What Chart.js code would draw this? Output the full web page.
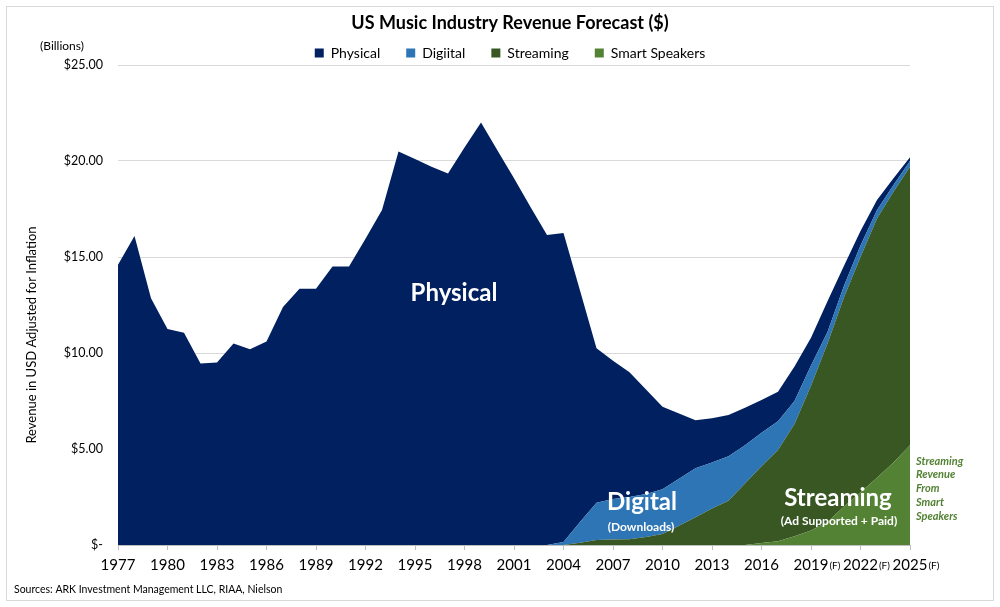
<!DOCTYPE html>
<html>
<head>
<meta charset="utf-8">
<title>US Music Industry Revenue Forecast</title>
<script src="https://cdn.jsdelivr.net/npm/chart.js@4/dist/chart.umd.min.js"></script>
<style>
  html, body { margin: 0; padding: 0; background: #fff; }
  #chart { display: block; }
</style>
</head>
<body>
<canvas id="chart" width="1000" height="607"></canvas>
<script>
// ---- data (billions of USD) ----
const years = [1977, 1978, 1979, 1980, 1981, 1982, 1983, 1984, 1985, 1986,
  1987, 1988, 1989, 1990, 1991, 1992, 1993, 1994, 1995, 1996,
  1997, 1998, 1999, 2000, 2001, 2002, 2003, 2004, 2005, 2006,
  2007, 2008, 2009, 2010, 2011, 2012, 2013, 2014, 2015, 2016,
  2017, 2018, 2019, 2020, 2021, 2022, 2023, 2024, 2025];

const forecastYears = [2019, 2022, 2025];

const physical = [14.6, 16.1, 12.85, 11.25, 11.05, 9.45, 9.5, 10.5, 10.2, 10.6,
  12.4, 13.35, 13.35, 14.5, 14.5, 15.95, 17.45, 20.5, 20.1, 19.7,
  19.35, 20.7, 22.0, 20.55, 19.1, 17.6, 16.15, 16.1, 12.05, 8.05,
  7.2, 6.5, 5.45, 4.3, 3.4, 2.5, 2.3, 2.15, 1.95, 1.7,
  1.53, 1.8, 1.45, 1.6, 1.05, 0.75, 0.52, 0.35, 0.2];

const digital = [0, 0, 0, 0, 0, 0, 0, 0, 0, 0,
  0, 0, 0, 0, 0, 0, 0, 0, 0, 0,
  0, 0, 0, 0, 0, 0, 0, 0.15, 1.08, 1.94,
  2.12, 2.2, 2.23, 2.33, 2.45, 2.55, 2.4, 2.32, 2.0, 1.75,
  1.5, 1.2, 1.05, 0.6, 0.6, 0.6, 0.45, 0.35, 0.3];

const streaming = [0, 0, 0, 0, 0, 0, 0, 0, 0, 0,
  0, 0, 0, 0, 0, 0, 0, 0, 0, 0,
  0, 0, 0, 0, 0, 0, 0, 0, 0.12, 0.26,
  0.28, 0.3, 0.42, 0.57, 1.0, 1.45, 1.9, 2.3, 3.2, 4.0,
  4.75, 5.85, 7.55, 9.3, 10.9, 12.25, 13.5, 14.1, 14.5];

const smartSpeakers = [0, 0, 0, 0, 0, 0, 0, 0, 0, 0,
  0, 0, 0, 0, 0, 0, 0, 0, 0, 0,
  0, 0, 0, 0, 0, 0, 0, 0, 0, 0,
  0, 0, 0, 0, 0, 0, 0, 0, 0, 0.1,
  0.2, 0.45, 0.75, 1.2, 2.0, 2.75, 3.5, 4.3, 5.2];

const yTicks = [0, 5, 10, 15, 20, 25];

const FONT = 'Lato, "Open Sans", sans-serif';
const NAVY = '#002060';
const BLUE = '#2E75B6';
const DARK_GREEN = '#385723';
const LIGHT_GREEN = '#548235';

// draws the frame, the axis title, the labels on the areas and the footer
const overlayText = {
  id: 'overlayText',
  afterInit(chart) {
    // legend padding gives the wide item spacing, but makes the box too tall
    const legend = chart.legend;
    const fit = legend.fit;
    legend.fit = function () {
      fit.call(this);
      this.height -= 5;
    };
  },
  afterLayout(chart) {
    // title and legend are centred over x = 510 in the reference
    chart.titleBlock.left += 100;
    chart.legend.left += 100;
  },
  beforeDraw(chart) {
    const ctx = chart.ctx;
    ctx.save();
    ctx.fillStyle = '#fff';
    ctx.fillRect(0, 0, chart.width, chart.height);
    ctx.strokeStyle = '#d9d9d9';
    ctx.lineWidth = 1;
    ctx.strokeRect(6.5, 6.5, 987, 594);
    ctx.restore();
  },
  afterDraw(chart) {
    const ctx = chart.ctx;
    const x = chart.scales.x;
    ctx.save();

    // y axis title
    ctx.fillStyle = '#000';
    ctx.font = '13px ' + FONT;
    ctx.textAlign = 'center';
    ctx.textBaseline = 'middle';
    ctx.save();
    ctx.translate(32, 335);
    ctx.rotate(-Math.PI / 2);
    ctx.fillText('Revenue in USD Adjusted for Inflation', 0, 0);
    ctx.restore();

    ctx.font = '12px ' + FONT;
    ctx.fillText('(Billions)', 62, 46);

    // (F) after the forecast years
    ctx.textAlign = 'left';
    forecastYears.forEach(yr => {
      const i = years.indexOf(yr);
      const px = x.getPixelForValue(i);
      ctx.font = '15px ' + FONT;
      const w = ctx.measureText(String(yr)).width;
      ctx.font = '10px ' + FONT;
      ctx.fillText('(F)', px + w / 2 + 1, 566);
    });

    // labels on the areas
    ctx.fillStyle = '#fff';
    ctx.textAlign = 'center';
    ctx.font = 'bold 24px ' + FONT;
    ctx.fillText('Physical', 454, 293);
    ctx.fillText('Digital', 642, 502);
    ctx.fillText('Streaming', 838, 498);
    ctx.font = 'bold 12px ' + FONT;
    ctx.fillText('(Downloads)', 641, 527);
    ctx.fillText('(Ad Supported + Paid)', 839, 521);

    ctx.fillStyle = LIGHT_GREEN;
    ctx.textAlign = 'left';
    ctx.font = 'italic bold 11px ' + FONT;
    ['Streaming', 'Revenue', 'From', 'Smart', 'Speakers'].forEach((t, i) => {
      ctx.fillText(t, 916, 461 + i * 13.8);
    });

    // footer
    ctx.fillStyle = '#000';
    ctx.font = '10.5px ' + FONT;
    ctx.fillText('Sources: ARK Investment Management LLC, RIAA, Nielson', 14, 590);
    ctx.restore();
  }
};

function area(label, data, color, fill) {
  return {
    label: label,
    data: data,
    backgroundColor: color,
    borderColor: color,
    borderWidth: 0,
    pointRadius: 0,
    tension: 0,
    fill: fill
  };
}

new Chart(document.getElementById('chart'), {
  type: 'line',
  data: {
    labels: years,
    // bottom of the stack first
    datasets: [
      area('Smart Speakers', smartSpeakers, LIGHT_GREEN, 'origin'),
      area('Streaming', streaming, DARK_GREEN, '-1'),
      area('Digiital', digital, BLUE, '-1'),
      area('Physical', physical, NAVY, '-1')
    ]
  },
  options: {
    responsive: false,
    animation: false,
    layout: { padding: { left: 10, right: 90, top: 0, bottom: 12 } },
    plugins: {
      title: {
        display: true,
        text: 'US Music Industry Revenue Forecast ($)',
        color: '#000',
        font: { family: FONT, size: 18, weight: 'bold' },
        padding: { top: 12, bottom: -13.6 }
      },
      legend: {
        reverse: true,
        labels: {
          color: '#000',
          font: { family: FONT, size: 14 },
          boxWidth: 9,
          boxHeight: 9,
          padding: 26
        }
      },
      tooltip: { enabled: false }
    },
    scales: {
      x: {
        stacked: true,
        offset: false,
        afterFit: scale => { scale.height = 50; },
        border: { display: true, color: '#bfbfbf' },
        grid: {
          drawOnChartArea: false,
          tickLength: 5,
          color: c => (c.index % 3 === 0 ? '#bfbfbf' : 'rgba(0,0,0,0)')
        },
        ticks: {
          autoSkip: false,
          maxRotation: 0,
          padding: 6,
          color: '#000',
          font: { family: FONT, size: 15 },
          callback: function (v, i) { return i % 3 === 0 ? String(years[i]) : ''; }
        }
      },
      y: {
        stacked: true,
        min: 0,
        max: 25,
        afterFit: scale => { scale.width = 108; },
        afterBuildTicks: scale => { scale.ticks = yTicks.map(v => ({ value: v })); },
        border: { display: false },
        grid: { color: '#d9d9d9', drawTicks: false },
        ticks: {
          padding: 15,
          color: '#000',
          font: { family: FONT, size: 12.5 },
          callback: v => (v === 0 ? '$-' : '$' + v.toFixed(2))
        }
      }
    }
  },
  plugins: [overlayText]
});
</script>
</body>
</html>
